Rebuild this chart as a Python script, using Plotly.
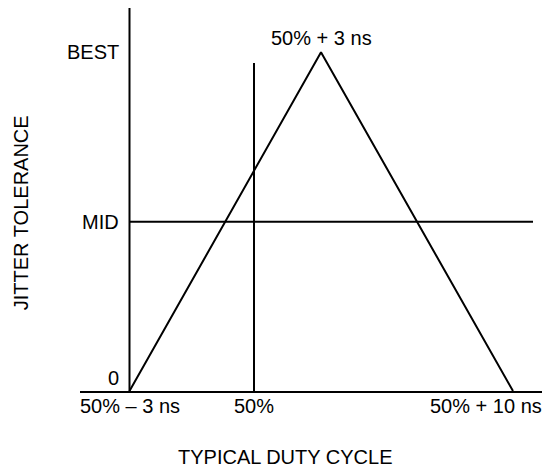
import plotly.graph_objects as go

# Schematic duty-cycle positions (arbitrary units, 0 = 50% - 3 ns)
tri_x = [0, 191.5, 383.5]      # 50%-3ns, 50%+3ns (peak), 50%+10ns
tri_y = [0, 2, 0]              # 0, BEST, 0
ref_x50 = 124.5                # 50% marker
ref_x50_top = 1.937
mid_level = 1
mid_end = 403.5
y_axis_top = 2.262

x_tickvals = [0, 124.5, 361]
x_ticktext = ["50% \u2013 3 ns", "50%", "50% + 10 ns"]
y_tickvals = [0, 1, 2]
y_ticktext = ["0", "MID", "BEST"]
peak_label = "50% + 3 ns"
x_title = "TYPICAL DUTY CYCLE"
y_title = "JITTER TOLERANCE"

FONT = dict(family="Liberation Sans, Arial, sans-serif", size=20, color="black")
LINE = dict(color="black", width=2)
X_MAX = 413.5

fig = go.Figure()
fig.add_trace(go.Scatter(x=tri_x, y=tri_y, mode="lines", line=LINE, hoverinfo="skip"))
fig.add_trace(go.Scatter(x=[ref_x50, ref_x50], y=[0, ref_x50_top], mode="lines", line=LINE, hoverinfo="skip"))
fig.add_trace(go.Scatter(x=[0, mid_end], y=[mid_level, mid_level], mode="lines", line=LINE, hoverinfo="skip"))
fig.add_trace(go.Scatter(x=[0, 0], y=[0, y_axis_top], mode="lines", line=LINE, hoverinfo="skip"))

annotations = []
for v, t in zip(y_tickvals, y_ticktext):
    annotations.append(dict(x=0, y=v, xref="x", yref="y", text=t, showarrow=False,
                            xanchor="right", yanchor="middle", xshift=-9,
                            yshift=(13 if v == 0 else 0), font=FONT))
for i, (v, t) in enumerate(zip(x_tickvals, x_ticktext)):
    last = i == len(x_tickvals) - 1
    annotations.append(dict(x=(X_MAX if last else v), y=0, xref="x", yref="paper", text=t,
                            showarrow=False, xanchor=("right" if last else "center"),
                            yanchor="middle", yshift=-14.5, xshift=(1 if last else 0), font=FONT))
annotations.append(dict(x=tri_x[1], y=tri_y[1], xref="x", yref="y", text=peak_label,
                        showarrow=False, xanchor="center", yanchor="middle", yshift=14.5, font=FONT))
annotations.append(dict(x=155.5, y=0, xref="x", yref="paper", text=x_title,
                        showarrow=False, xanchor="center", yanchor="middle", yshift=-66, font=FONT))
annotations.append(dict(x=0, y=1.05 / y_axis_top, xref="paper", yref="paper", text=y_title,
                        showarrow=False, textangle=-90, xanchor="center", yanchor="middle",
                        xshift=-59, font=FONT))

fig.update_layout(
    width=542, height=459,
    margin=dict(l=72, r=7, t=0, b=76),
    plot_bgcolor="white", paper_bgcolor="white",
    showlegend=False,
    annotations=annotations,
    xaxis=dict(range=[-49.5, X_MAX], showgrid=False, zeroline=False, showline=True,
               linecolor="black", linewidth=2, showticklabels=False, ticks="", fixedrange=True),
    yaxis=dict(range=[0, y_axis_top], showgrid=False, zeroline=False, showline=False,
               showticklabels=False, ticks="", fixedrange=True),
)

fig.write_html("out.html")
